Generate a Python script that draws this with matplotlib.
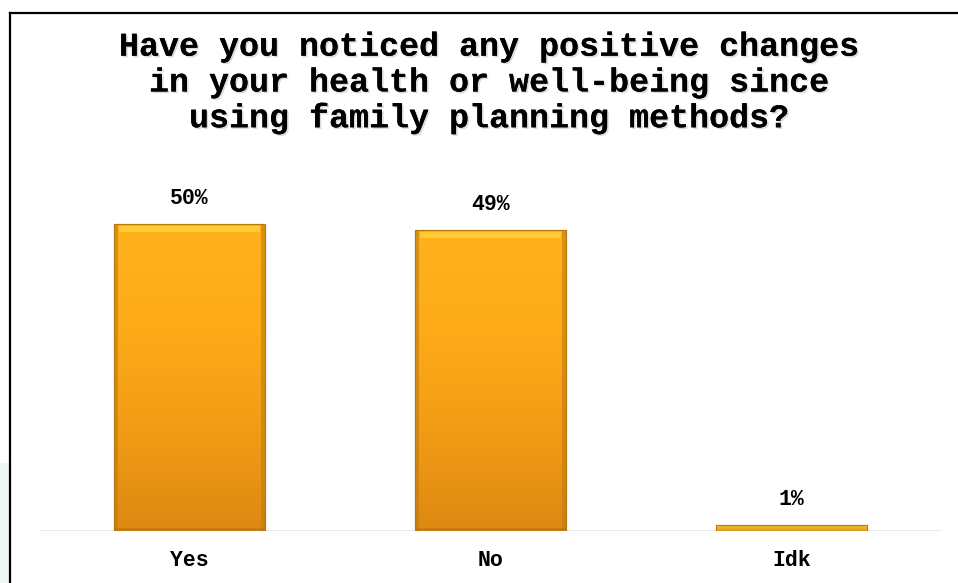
import matplotlib
matplotlib.use("Agg")
import matplotlib.pyplot as plt
import matplotlib.patheffects as pe
from matplotlib.patches import Rectangle
from matplotlib.colors import LinearSegmentedColormap
import numpy as np

categories = ["Yes", "No", "Idk"]
values = [50, 49, 1]
labels = ["50%", "49%", "1%"]
title = "Have you noticed any positive changes\nin your health or well-being since\nusing family planning methods?"

W, H = 958, 583
fig = plt.figure(figsize=(W / 100, H / 100), dpi=100)
fig.patch.set_facecolor("white")

# faint background watermark hints
fig.add_artist(Rectangle((0, 0), 9 / W, 120 / H, transform=fig.transFigure,
                         facecolor="#eef6f6", edgecolor="none", zorder=0))
# border (left and top)
fig.add_artist(plt.Line2D([9.5 / W, 9.5 / W], [0, 1 - 13 / H], transform=fig.transFigure,
                          color="black", lw=1.6, zorder=5))
fig.add_artist(plt.Line2D([9.5 / W, 1], [1 - 13 / H, 1 - 13 / H], transform=fig.transFigure,
                          color="black", lw=1.6, zorder=5))

ax = fig.add_axes([39 / W, 52 / H, 903 / W, 351 / H])
ax.set_xlim(-0.5, 2.5)
ax.set_ylim(0, 57.2)
for s in ax.spines.values():
    s.set_visible(False)
ax.axhline(0, color="#e6e6e6", lw=1.2, zorder=1)
ax.set_yticks([])
ax.set_xticks(range(len(categories)))
ax.set_xticklabels(categories, fontfamily="Liberation Mono", fontweight="bold",
                   fontsize=15.5)
ax.tick_params(axis="x", length=0, pad=14)

bars = ax.bar(range(len(categories)), values, width=0.5, color="#f6a318",
              edgecolor="#b8780e", linewidth=0.8, zorder=2)

grad = np.linspace(0, 1, 256).reshape(-1, 1)
cmap = LinearSegmentedColormap.from_list("g", ["#dd8912", "#f29c15", "#fdab18", "#ffb21c"])
for b in bars:
    x0, y0 = b.get_x(), b.get_y()
    w, h = b.get_width(), b.get_height()
    im = ax.imshow(grad, extent=[x0, x0 + w, y0, y0 + h], origin="lower",
                   cmap=cmap, aspect="auto", zorder=2.5)
    im.set_clip_path(b)
    if h > 2:
        ax.add_patch(Rectangle((x0 + w * 0.03, y0 + h - 1.2), w * 0.94, 0.9,
                               facecolor="#ffd23a", edgecolor="none", alpha=0.8, zorder=2.7))
        ax.add_patch(Rectangle((x0, y0), w * 0.025, h, facecolor="#c07a10",
                               edgecolor="none", alpha=0.6, zorder=2.7))
        ax.add_patch(Rectangle((x0 + w * 0.975, y0), w * 0.025, h, facecolor="#c07a10",
                               edgecolor="none", alpha=0.6, zorder=2.7))
        ax.add_patch(Rectangle((x0, y0), w, 0.5, facecolor="#b87410",
                               edgecolor="none", alpha=0.6, zorder=2.7))
    else:
        im.set_cmap(LinearSegmentedColormap.from_list("t", ["#d8a020", "#ffc830"]))
    ax.add_patch(Rectangle((x0, y0), w, h, facecolor="none", edgecolor="#b8780e",
                           lw=0.8, zorder=3))

for b, lab in zip(bars, labels):
    ax.annotate(lab, (b.get_x() + b.get_width() / 2, b.get_height()),
                xytext=(0, 18.5), textcoords="offset points", ha="center", va="center",
                fontfamily="Liberation Mono", fontweight="bold", fontsize=15.5)

fig.text(489 / W, 1 - 83 / H, title, ha="center", va="center", linespacing=1.2,
         fontfamily="Liberation Mono", fontweight="bold", fontsize=24,
         path_effects=[pe.withSimplePatchShadow(offset=(1.2, -1.2), shadow_rgbFace="#999999",
                                                alpha=0.35), pe.Normal()])

fig.savefig("out.png", dpi=100, facecolor="white")
